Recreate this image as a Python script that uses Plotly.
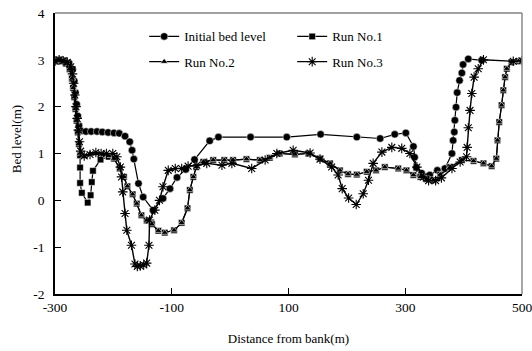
import plotly.graph_objects as go

# ---------------- data ----------------
init_x = [-300, -292, -284, -276, -270, -267, -265, -263, -261, -259, -255, -247, -238, -228, -219,
          -209, -199, -190, -180, -172, -168, -165, -157, -149, -132, -115, -103, -91, -76, -61,
          -35, -20, 35, 97, 155, 217, 257, 282, 301, 314, 316, 319, 328, 342, 355, 368,
          380, 382, 384, 385, 387, 389, 393, 397, 399, 408, 431]
init_y = [2.97, 3.0, 2.98, 2.93, 2.8, 2.55, 2.3, 2.05, 1.8, 1.6, 1.48, 1.47, 1.47, 1.47, 1.46,
          1.45, 1.44, 1.43, 1.37, 1.25, 1.07, 0.88, 0.36, 0.07, -0.21, 0.04, 0.25, 0.49, 0.66, 0.87,
          1.27, 1.35, 1.35, 1.35, 1.41, 1.35, 1.32, 1.41, 1.44, 1.15, 0.92, 0.7, 0.58, 0.54, 0.64, 0.68,
          1.0, 1.28, 1.46, 1.71, 1.99, 2.3, 2.56, 2.72, 2.9, 3.02, 2.99]

run2_x = [-300, -294, -287, -281, -275, -271, -269, -267, -265, -263, -261, -259, -257, -250, -240,
          -229, -217, -208, -199, -189, -182, -176, -167, -160, -152, -143, -134, -123, -112, -96,
          -83, -73, -69, -63, -58, -46, -29, -10, 5, 28, 51, 68, 85, 111, 134, 154, 171, 188,
          202, 217, 234, 250, 265, 288, 302, 314, 326, 337, 348, 360, 377, 397, 417, 434, 448,
          456, 458, 461, 465, 468, 471, 474, 482, 494, 500]
run2_y = [2.97, 3.0, 2.97, 2.92, 2.8, 2.6, 2.4, 2.2, 1.95, 1.7, 1.45, 1.2, 1.0, 0.93, 1.0,
          0.99, 0.98, 0.95, 0.89, 0.68, 0.5, 0.3, 0.13, -0.07, -0.32, -0.43, -0.51, -0.65, -0.69, -0.64,
          -0.48, -0.17, 0.22, 0.5, 0.71, 0.82, 0.86, 0.86, 0.86, 0.88, 0.86, 0.91, 1.0, 0.98, 1.0, 0.89, 0.79, 0.64,
          0.56, 0.55, 0.61, 0.64, 0.71, 0.68, 0.64, 0.54, 0.5, 0.45, 0.43, 0.55, 0.71, 0.86, 0.84, 0.79, 0.73,
          0.89, 1.28, 1.67, 2.03, 2.35, 2.63, 2.81, 2.95, 2.97, 2.98]

run1_x = [-300, -294, -287, -281, -275, -271, -269, -267, -265, -263, -261, -259, -257, -257, -257,
          -254, -244, -239, -237, -235, -222, -208] + run2_x[18:]
run1_y = [2.97, 3.0, 2.97, 2.92, 2.8, 2.6, 2.4, 2.2, 1.95, 1.7, 1.45, 1.2, 0.96, 0.7, 0.37,
          0.16, -0.05, 0.11, 0.39, 0.63, 0.87, 0.93] + run2_y[18:]

run3_x = [-300, -293, -286, -279, -273, -270, -268, -266, -264, -262, -260, -258, -256, -250, -240,
          -230, -221, -212, -201, -194, -188, -186, -184, -180, -177, -169, -163, -159, -154, -148,
          -143, -139, -138, -129, -121, -115, -106, -94, -83, -72, -57, -40, -14, 3, 37, 60, 80,
          108, 137, 154, 174, 185, 192, 203, 216, 228, 237, 245, 260, 277, 294, 308, 320, 331,
          340, 352, 362, 380, 394, 405, 406, 408, 411, 414, 418, 425, 434, 485, 500]
run3_y = [2.97, 3.0, 2.98, 2.95, 2.85, 2.7, 2.5, 2.25, 2.0, 1.75, 1.5, 1.25, 1.05, 0.95, 0.98,
          1.02, 1.0, 1.0, 1.0, 0.93, 0.71, 0.5, 0.18, -0.28, -0.64, -0.96, -1.36, -1.41, -1.4, -1.38,
          -1.34, -0.96, -0.42, -0.21, 0.0, 0.29, 0.64, 0.68, 0.68, 0.73, 0.75, 0.79, 0.75, 0.79, 0.68, 0.86, 1.0,
          1.07, 1.01, 0.88, 0.71, 0.54, 0.25, 0.05, -0.09, 0.14, 0.43, 0.79, 1.03, 1.13, 1.11, 1.0, 0.71, 0.5,
          0.42, 0.42, 0.48, 0.68, 0.82, 0.93, 1.13, 1.55, 1.92, 2.28, 2.63, 2.81, 3.0, 2.97, 2.98]

names = ["Initial bed level", "Run No.1", "Run No.2", "Run No.3"]
x_ticks = [-300, -100, 100, 300, 500]
y_ticks = [-2, -1, 0, 1, 2, 3, 4]

FONT = "Liberation Serif"

fig = go.Figure()
fig.add_trace(go.Scatter(x=init_x, y=init_y, name=names[0], mode="lines+markers",
                         line=dict(color="black", width=1.2),
                         marker=dict(symbol="circle", size=7.5, color="black",
                                     line=dict(color="white", width=0.5)),
                         legend="legend"))
fig.add_trace(go.Scatter(x=run1_x, y=run1_y, name=names[1], mode="lines+markers",
                         line=dict(color="black", width=1.2),
                         marker=dict(symbol="square", size=6.5, color="black",
                                     line=dict(color="white", width=0.5)),
                         legend="legend"))
fig.add_trace(go.Scatter(x=run2_x, y=run2_y, name=names[2], mode="lines+markers",
                         line=dict(color="black", width=1.2),
                         marker=dict(symbol="triangle-up", size=6.5, color="black",
                                     line=dict(color="white", width=0.6)),
                         legend="legend2"))
fig.add_trace(go.Scatter(x=run3_x, y=run3_y, name=names[3], mode="lines+markers",
                         line=dict(color="black", width=1.4),
                         marker=dict(symbol="asterisk-open", size=8, color="black",
                                     line=dict(color="black", width=1.1)),
                         legend="legend2"))

legend_common = dict(orientation="h", xanchor="left", yanchor="top",
                     font=dict(family=FONT, size=13, color="black"),
                     bgcolor="rgba(0,0,0,0)", entrywidth=103, entrywidthmode="pixels",
                     itemwidth=30, tracegroupgap=0)

fig.update_layout(
    width=532, height=351,
    margin=dict(l=55, r=10, t=13, b=57),
    paper_bgcolor="white", plot_bgcolor="white",
    font=dict(family=FONT, size=13, color="black"),
    showlegend=True,
    legend=dict(x=0.191, y=0.97, **legend_common),
    legend2=dict(x=0.191, y=0.88, **legend_common),
    xaxis=dict(range=[-300, 500], tickvals=x_ticks, ticktext=[str(v) for v in x_ticks],
               ticks="inside", ticklen=6, tickcolor="black", tickwidth=1,
               showline=True, linecolor="black", linewidth=1.5, showgrid=False, zeroline=False,
               automargin=False, ticklabeloverflow="allow",
               tickfont=dict(family=FONT, size=13.5, color="black"),
               title=dict(text="Distance from bank(m)", font=dict(family=FONT, size=13), standoff=20)),
    yaxis=dict(range=[-2, 4], tickvals=y_ticks, ticktext=[str(v) for v in y_ticks],
               ticks="inside", ticklen=6, tickcolor="black", tickwidth=1,
               showline=True, linecolor="black", linewidth=1.5, showgrid=False, zeroline=False,
               automargin=False, ticklabeloverflow="allow",
               tickfont=dict(family=FONT, size=13.5, color="black"),
               ticklabelstandoff=6),
    annotations=[
        dict(text="Bed level(m)", xref="paper", yref="paper", x=-0.082, y=0.55,
             xanchor="center", yanchor="middle", textangle=-90, showarrow=False,
             font=dict(family=FONT, size=13, color="black")),
    ],
    shapes=[
        dict(type="line", xref="paper", yref="paper", x0=0, x1=1, y0=1, y1=1,
             line=dict(color="#444444", width=1.2)),
        dict(type="line", xref="paper", yref="paper", x0=1, x1=1, y0=0, y1=1,
             line=dict(color="#888888", width=1.5)),
    ],
)

fig.write_html("out.html")
